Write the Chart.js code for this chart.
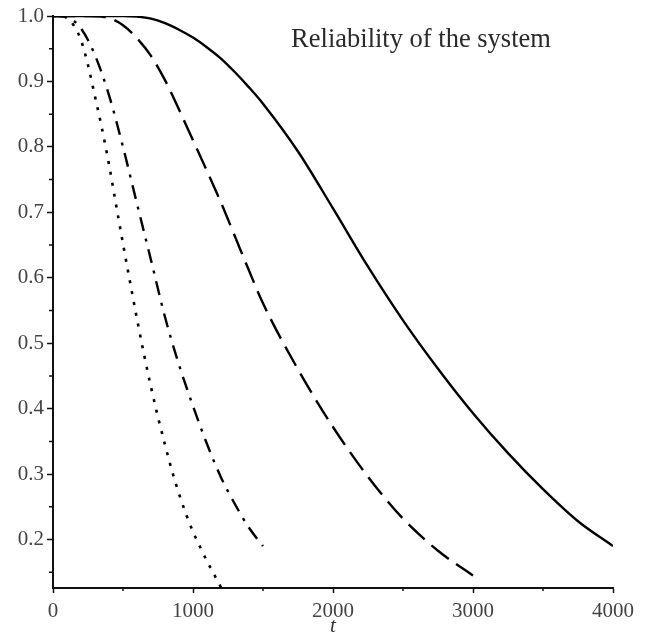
<!DOCTYPE html>
<html>
<head>
<meta charset="utf-8">
<script src="https://cdn.jsdelivr.net/npm/chart.js@4.4.1/dist/chart.umd.min.js"></script>
<style>
  html, body { margin: 0; padding: 0; background: #fff; }
  #wrap { width: 647px; height: 639px; }
</style>
</head>
<body>
<div id="wrap"><canvas id="chart" width="647" height="639"></canvas></div>
<script>
const SERIF = '"Liberation Serif", "DejaVu Serif", serif'
const TITLE = 'Reliability of the system'

// ── Data ─────────────────────────────────────────────────────────────────────

const tSolid = [0, 250, 500, 600, 700, 800, 900, 1000, 1100, 1200, 1300, 1400, 1500, 1750, 2000, 2250, 2500, 2750, 3000, 3250, 3500, 3750, 4000]
const rSolid = [1.0, 1.0, 1.0, 0.999, 0.996, 0.989, 0.979, 0.967, 0.952, 0.935, 0.914, 0.891, 0.866, 0.793, 0.706, 0.617, 0.535, 0.461, 0.393, 0.332, 0.277, 0.228, 0.19]

const tDashed = [0, 250, 350, 400, 500, 600, 700, 800, 900, 1000, 1100, 1200, 1300, 1400, 1500, 1750, 2000, 2250, 2500, 2750, 3000]
const rDashed = [1.0, 1.0, 0.999, 0.997, 0.986, 0.966, 0.939, 0.902, 0.857, 0.81, 0.763, 0.715, 0.663, 0.611, 0.561, 0.46, 0.372, 0.296, 0.232, 0.183, 0.145]

const tDashDot = [0, 100, 200, 300, 400, 500, 600, 700, 800, 900, 1000, 1100, 1200, 1300, 1400, 1500]
const rDashDot = [1.0, 0.998, 0.981, 0.94, 0.879, 0.80, 0.713, 0.627, 0.54, 0.467, 0.404, 0.346, 0.295, 0.254, 0.218, 0.19]

const tDotted = [0, 50, 100, 150, 200, 250, 300, 350, 400, 450, 500, 550, 600, 650, 700, 750, 800, 850, 900, 950, 1000, 1050, 1100, 1150, 1200]
const rDotted = [1.0, 1.0, 0.997, 0.985, 0.963, 0.925, 0.877, 0.828, 0.773, 0.712, 0.652, 0.594, 0.537, 0.483, 0.433, 0.387, 0.345, 0.305, 0.27, 0.239, 0.212, 0.189, 0.167, 0.147, 0.127]

const xTicks = [0, 1000, 2000, 3000, 4000]
const xMinor = [500, 1500, 2500, 3500]
const yTicks = [0.2, 0.3, 0.4, 0.5, 0.6, 0.7, 0.8, 0.9, 1.0]
const yMinor = [0.15, 0.25, 0.35, 0.45, 0.55, 0.65, 0.75, 0.85, 0.95]

const pts = (ts, rs) => ts.map((t, i) => ({ x: t, y: rs[i] }))

// ── Extra drawing: minor ticks + in-plot title ───────────────────────────────

const extras = {
  id: 'extras',
  afterDraw(chart) {
    const { ctx, scales: { x, y } } = chart
    ctx.save()
    ctx.strokeStyle = '#111'
    ctx.lineWidth = 1.5
    ctx.beginPath()
    for (const v of xMinor) {
      const px = x.getPixelForValue(v)
      ctx.moveTo(px, x.top)
      ctx.lineTo(px, x.top + 3)
    }
    for (const v of yMinor) {
      const py = y.getPixelForValue(v)
      ctx.moveTo(y.right, py)
      ctx.lineTo(y.right - 4, py)
    }
    ctx.stroke()

    ctx.fillStyle = '#2a2a2a'
    ctx.font = '26.5px ' + SERIF
    ctx.textAlign = 'center'
    ctx.textBaseline = 'alphabetic'
    ctx.fillText(TITLE, 421, 47)
    ctx.restore()
  }
}

const line = (data, dash, width) => ({
  data,
  borderColor: '#000',
  borderWidth: width,
  borderDash: dash,
  borderCapStyle: 'butt',
  pointRadius: 0,
  fill: false,
  cubicInterpolationMode: 'monotone'
})

new Chart(document.getElementById('chart'), {
  type: 'line',
  data: {
    datasets: [
      line(pts(tDotted, rDotted), [3, 8], 2.6),
      line(pts(tDashDot, rDashDot), [14, 8, 3, 8], 2.4),
      line(pts(tDashed, rDashed), [22, 9], 2.4),
      line(pts(tSolid, rSolid), [], 2.4)
    ]
  },
  options: {
    responsive: false,
    animation: false,
    layout: { padding: { top: 16, right: 34, bottom: 0, left: 0 } },
    plugins: { legend: { display: false }, tooltip: { enabled: false } },
    scales: {
      x: {
        type: 'linear',
        min: 0,
        max: 4000,
        afterBuildTicks: axis => { axis.ticks = xTicks.map(v => ({ value: v })) },
        afterFit: axis => { axis.height = 51 },
        ticks: {
          font: { family: SERIF, size: 21 },
          color: '#444',
          padding: 6,
          maxRotation: 0,
          autoSkip: false,
          callback: v => String(v)
        },
        grid: { drawOnChartArea: false, drawTicks: true, tickLength: 5, tickColor: '#111', tickWidth: 1.5 },
        border: { display: true, color: '#111', width: 2 },
        title: { display: true, text: 't', color: '#333', padding: 0, font: { family: SERIF, size: 21, style: 'italic' } }
      },
      y: {
        type: 'linear',
        min: 0.126,
        max: 1.0,
        afterBuildTicks: axis => { axis.ticks = yTicks.map(v => ({ value: v })) },
        afterFit: axis => { axis.width = 53 },
        ticks: {
          font: { family: SERIF, size: 21 },
          color: '#444',
          padding: 3,
          autoSkip: false,
          callback: v => v.toFixed(1)
        },
        grid: { drawOnChartArea: false, drawTicks: true, tickLength: 6, tickColor: '#111', tickWidth: 1.5 },
        border: { display: true, color: '#111', width: 2 }
      }
    }
  },
  plugins: [extras]
})
</script>
</body>
</html>
